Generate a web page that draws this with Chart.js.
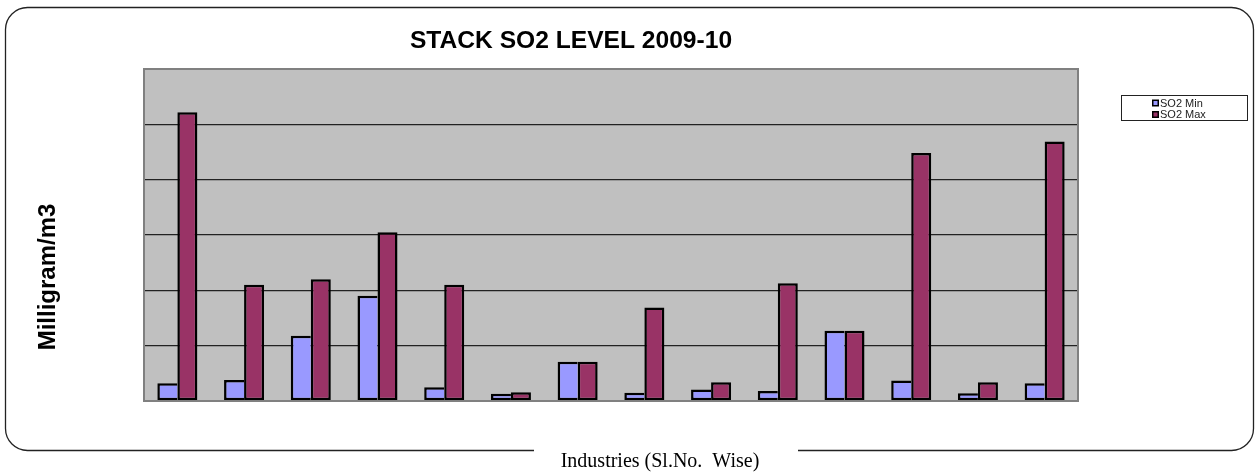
<!DOCTYPE html>
<html>
<head>
<meta charset="utf-8">
<script src="https://cdn.jsdelivr.net/npm/chart.js@4.4.1/dist/chart.umd.min.js"></script>
<style>
  body { margin: 0; background: #fff; }
  #wrap { width: 1255px; height: 472px; }
</style>
</head>
<body>
<div id="wrap"><canvas id="so2-chart" width="1255" height="472"></canvas></div>
<script>
// industries by serial number (no labels shown on the axis)
const industries = ["1", "2", "3", "4", "5", "6", "7", "8", "9", "10", "11", "12", "13", "14"];
const so2Min = [32, 38, 118, 190, 25, 13, 71, 15, 21, 18, 127, 37, 14, 32];
const so2Max = [522, 210, 220, 305, 210, 16, 71, 169, 34, 213, 127, 448, 34, 469];
const yTicks = [0, 100, 200, 300, 400, 500, 600];

const chartTitle = "STACK SO2 LEVEL 2009-10";
const xTitle = "Industries (Sl.No.  Wise)";
const yTitle = "Milligram/m3";

// frame, plot background, titles and legend box drawn by hand (excel look)
const excelLook = {
  id: "excelLook",
  beforeDraw(chart) {
    const { ctx, chartArea: a } = chart;
    ctx.save();
    ctx.fillStyle = "#fff";
    ctx.fillRect(0, 0, chart.width, chart.height);

    // rounded outer frame, open where the x title sits
    const l = 5.5, t = 7.5, r = 1253.5, b = 450.5, rad = 22;
    ctx.strokeStyle = "#222";
    ctx.lineWidth = 1.3;
    ctx.beginPath();
    ctx.moveTo(534, b);
    ctx.lineTo(l + rad, b);
    ctx.arcTo(l, b, l, b - rad, rad);
    ctx.lineTo(l, t + rad);
    ctx.arcTo(l, t, l + rad, t, rad);
    ctx.lineTo(r - rad, t);
    ctx.arcTo(r, t, r, t + rad, rad);
    ctx.lineTo(r, b - rad);
    ctx.arcTo(r, b, r - rad, b, rad);
    ctx.lineTo(798, b);
    ctx.stroke();

    // plot background
    ctx.fillStyle = "#C0C0C0";
    ctx.fillRect(a.left, a.top, a.right - a.left, a.bottom - a.top);
    ctx.restore();
  },
  afterDraw(chart) {
    const { ctx, chartArea: a } = chart;
    ctx.save();
    // plot border
    ctx.strokeStyle = "#808080";
    ctx.lineWidth = 2;
    ctx.strokeRect(a.left, a.top, a.right - a.left, a.bottom - a.top);

    // chart title
    ctx.fillStyle = "#000";
    ctx.font = "bold 24.6px 'Liberation Sans', Arial, sans-serif";
    ctx.textAlign = "center";
    ctx.textBaseline = "alphabetic";
    ctx.fillText(chartTitle, 571, 48);

    // x axis title
    ctx.font = "20px 'Liberation Serif', 'Times New Roman', serif";
    ctx.fillText(xTitle, 660, 467);

    // y axis title
    ctx.save();
    ctx.translate(55, 277);
    ctx.rotate(-Math.PI / 2);
    ctx.font = "bold 24px 'Liberation Sans', Arial, sans-serif";
    ctx.fillText(yTitle, 0, 0);
    ctx.restore();

    // legend
    ctx.fillStyle = "#fff";
    ctx.fillRect(1121.5, 95.5, 126, 25);
    ctx.strokeStyle = "#222";
    ctx.lineWidth = 1;
    ctx.strokeRect(1121.5, 95.5, 126, 25);
    ctx.font = "11px 'Liberation Sans', Arial, sans-serif";
    ctx.textAlign = "left";
    ctx.textBaseline = "middle";
    chart.data.datasets.forEach((ds, i) => {
      const y = 103 + i * 11.5;
      ctx.fillStyle = "#000";
      ctx.fillRect(1152, y - 3.5, 7, 7);
      ctx.fillStyle = ds.backgroundColor;
      ctx.fillRect(1153.5, y - 2, 4, 4);
      ctx.fillStyle = "#222";
      ctx.fillText(ds.label, 1160, y + 0.5);
    });
    ctx.restore();
  }
};

const ctx = document.getElementById("so2-chart").getContext("2d");
new Chart(ctx, {
  type: "bar",
  data: {
    labels: industries,
    datasets: [
      {
        label: "SO2 Min",
        data: so2Min,
        backgroundColor: "#9999FF",
        borderColor: "#000",
        // the max bar's left edge doubles as the shared divider
        borderWidth: { top: 2.5, left: 2.5, bottom: 2.5, right: 0 },
        borderSkipped: false,
      },
      {
        label: "SO2 Max",
        data: so2Max,
        backgroundColor: "#993366",
        borderColor: "#000",
        borderWidth: 2.5,
        borderSkipped: false,
      },
    ],
  },
  options: {
    responsive: false,
    animation: false,
    layout: {
      padding: { left: 144, top: 69, right: 177, bottom: 71 },
    },
    datasets: {
      bar: { categoryPercentage: 0.6, barPercentage: 1 },
    },
    scales: {
      x: { display: false },
      y: {
        min: yTicks[0],
        max: yTicks[yTicks.length - 1],
        afterBuildTicks: (scale) => {
          scale.ticks = yTicks.map((v) => ({ value: v }));
        },
        afterFit: (scale) => { scale.width = 0; },
        ticks: { display: false },
        border: { display: false },
        grid: {
          drawTicks: false,
          lineWidth: 1.3,
          color: (c) => (c.tick.value === 0 || c.tick.value === 600 ? "rgba(0,0,0,0)" : "#222"),
        },
      },
    },
    plugins: {
      legend: { display: false },
      title: { display: false },
      tooltip: { enabled: false },
    },
  },
  plugins: [excelLook],
});
</script>
</body>
</html>
